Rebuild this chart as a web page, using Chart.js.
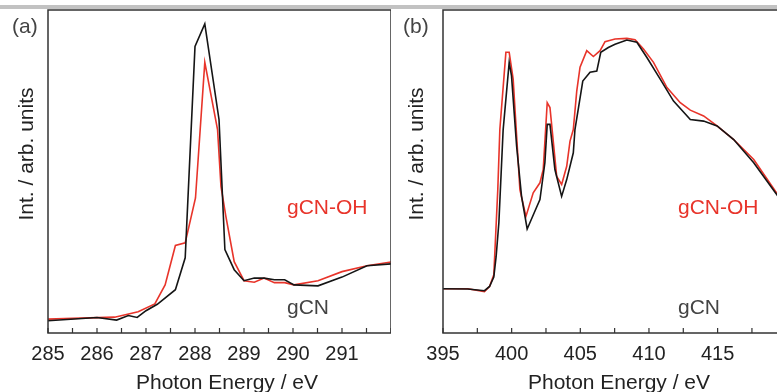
<!DOCTYPE html>
<html lang="en">
<head>
<meta charset="UTF-8">
<title>gCN / gCN-OH NEXAFS</title>
<script src="https://cdn.jsdelivr.net/npm/chart.js@4.4.1/dist/chart.umd.min.js"></script>
<style>
    body {
        margin: 0;
        width: 777px;
        height: 392px;
        overflow: hidden;
        background: #ffffff;
        position: relative;
    }
    #topBar { position: absolute; left: 0; top: 5px; width: 777px; height: 4px; background: #c2c2c2; }
    #panelA { position: absolute; left: 0; top: 0; }
    #panelB { position: absolute; left: 395px; top: 0; }
</style>
</head>
<body>
<div id="topBar"></div>
<canvas id="panelA" width="391" height="392"></canvas>
<canvas id="panelB" width="405" height="392"></canvas>
<script>
// ---- panel (a): C K-edge ----
const energyA_gCN = [285.0, 286.0, 286.4, 286.64, 286.82, 287.0, 287.23, 287.6, 287.8, 288.0, 288.2, 288.49, 288.61, 288.8, 289.0, 289.21, 289.41, 289.62, 289.83, 290.02, 290.51, 291.0, 291.51, 292.0];
const intA_gCN    = [3.8, 4.8, 4.0, 5.4, 4.8, 6.9, 8.9, 13.4, 23.3, 88.7, 95.7, 66.1, 25.8, 19.6, 16.2, 17.0, 17.0, 16.5, 16.5, 14.9, 14.6, 17.3, 20.8, 21.4];
const energyA_OH  = [285.0, 285.68, 286.36, 286.84, 287.18, 287.39, 287.6, 287.8, 288.01, 288.2, 288.46, 288.53, 288.63, 288.8, 289.0, 289.21, 289.41, 289.62, 289.83, 290.02, 290.51, 291.0, 291.51, 292.0];
const intA_OH     = [4.3, 4.6, 4.9, 6.6, 9.0, 14.9, 27.1, 27.9, 41.8, 83.8, 63.0, 45.4, 36.1, 22.1, 16.2, 15.7, 17.0, 15.6, 15.6, 14.9, 16.2, 19.0, 20.8, 22.0];
const ticksA = [285, 286, 287, 288, 289, 290, 291];

// ---- panel (b): N K-edge ----
const energyB_gCN = [395.0, 396.8, 398.02, 398.39, 398.7, 398.87, 399.07, 399.38, 399.82, 399.99, 400.36, 400.72, 401.13, 401.69, 402.06, 402.42, 402.59, 402.79, 403.15, 403.64, 404.01, 404.49, 404.61, 405.18, 405.71, 406.2, 406.49, 407.04, 407.53, 408.39, 409.12, 409.85, 410.82, 411.79, 413.01, 413.98, 414.96, 416.17, 417.63, 419.21, 421.0];
const intB_gCN    = [13.7, 13.6, 13.1, 14.4, 17.3, 23.7, 34.2, 62.9, 83.8, 79.6, 57.9, 42.3, 32.2, 37.7, 41.3, 52.7, 64.6, 64.6, 50.6, 42.3, 47.5, 55.8, 63.0, 78.0, 80.7, 81.1, 86.9, 88.4, 89.4, 90.7, 90.0, 85.3, 78.6, 71.8, 66.1, 65.6, 64.1, 59.9, 52.7, 43.4, 33.0];
const energyB_OH  = [395.0, 396.8, 398.02, 398.39, 398.7, 398.99, 399.14, 399.58, 399.82, 400.11, 400.6, 401.04, 401.57, 402.06, 402.3, 402.59, 402.79, 403.28, 403.64, 404.01, 404.25, 404.49, 404.74, 404.98, 405.47, 405.95, 406.44, 406.8, 407.53, 408.39, 408.99, 409.6, 410.33, 411.31, 412.28, 413.01, 413.98, 414.96, 416.17, 417.63, 419.21, 421.0];
const intB_OH     = [13.7, 13.7, 12.8, 14.4, 18.0, 44.4, 63.0, 86.9, 86.9, 78.6, 44.4, 36.1, 43.4, 46.5, 50.6, 71.3, 69.8, 48.5, 46.0, 51.6, 59.4, 63.0, 74.9, 82.3, 87.4, 85.6, 87.4, 90.2, 91.0, 91.2, 90.8, 87.9, 83.8, 76.0, 71.3, 69.0, 67.2, 64.1, 59.9, 53.7, 43.9, 33.5];
const ticksB = [395, 400, 405, 410, 415];

const FONT = '"Liberation Sans", Arial, sans-serif';
const RED = '#e8342a';
const BLACK = '#151515';

function toPoints(xs, ys) {
    return xs.map((x, i) => ({ x: x, y: ys[i] }));
}

// frame, inward minor/major ticks and the text labels of each panel
const panelDecor = {
    id: 'panelDecor',
    afterDraw(chart, args, opts) {
        const ctx = chart.ctx;
        const a = chart.chartArea;
        const xs = chart.scales.x;
        ctx.save();
        ctx.strokeStyle = '#333333';
        ctx.lineWidth = 1.5;
        ctx.strokeRect(a.left, a.top, a.right - a.left, a.bottom - a.top);
        ctx.beginPath();
        for (let v = xs.min; v <= xs.max + 1e-6; v += opts.minorStep) {
            const px = xs.getPixelForValue(v);
            ctx.moveTo(px, a.bottom);
            ctx.lineTo(px, a.bottom - 5);
        }
        ctx.lineWidth = 1.2;
        ctx.stroke();

        ctx.font = '21px ' + FONT;
        ctx.textBaseline = 'alphabetic';
        ctx.fillStyle = '#444444';
        ctx.textAlign = 'left';
        ctx.fillText(opts.letter, opts.letterX, 33);
        ctx.fillStyle = RED;
        ctx.fillText('gCN-OH', opts.labelX, 214);
        ctx.fillStyle = '#444444';
        ctx.fillText('gCN', opts.labelX, 314);

        ctx.fillStyle = '#222222';
        ctx.textAlign = 'center';
        ctx.fillText('Photon Energy / eV', opts.titleX, 389);

        ctx.translate(opts.yTitleX, 154);
        ctx.rotate(-Math.PI / 2);
        ctx.fillText('Int. / arb. units', 0, 0);
        ctx.restore();
    }
};

function makePanel(id, ohX, ohY, cnX, cnY, xMin, xMax, tickList, decor) {
    return new Chart(document.getElementById(id), {
        type: 'scatter',
        data: {
            datasets: [
                { label: 'gCN', data: toPoints(cnX, cnY), borderColor: BLACK, borderWidth: 1.6, showLine: true, pointRadius: 0, tension: 0 },
                { label: 'gCN-OH', data: toPoints(ohX, ohY), borderColor: RED, borderWidth: 1.6, showLine: true, pointRadius: 0, tension: 0 }
            ]
        },
        options: {
            responsive: false,
            animation: false,
            layout: { padding: { top: 10, right: 0, left: 0, bottom: 0 } },
            plugins: { legend: { display: false }, tooltip: { enabled: false }, panelDecor: decor },
            scales: {
                x: {
                    type: 'linear',
                    min: xMin,
                    max: xMax,
                    grid: { display: false, drawTicks: false },
                    border: { display: false },
                    afterBuildTicks: s => { s.ticks = tickList.map(v => ({ value: v })); },
                    afterFit: s => { s.height = 59; },
                    ticks: { autoSkip: false, maxRotation: 0, padding: 9, color: '#222222', font: { size: 20, family: FONT } }
                },
                y: {
                    min: 0,
                    max: 100,
                    grid: { display: false, drawTicks: false },
                    border: { display: false },
                    ticks: { display: false },
                    afterFit: s => { s.width = 48; }
                }
            }
        },
        plugins: [panelDecor]
    });
}

makePanel('panelA', energyA_OH, intA_OH, energyA_gCN, intA_gCN, 285, 292, ticksA,
    { letter: '(a)', letterX: 12, labelX: 287, titleX: 227, yTitleX: 33, minorStep: 0.5 });
makePanel('panelB', energyB_OH, intB_OH, energyB_gCN, intB_gCN, 395, 421, ticksB,
    { letter: '(b)', letterX: 8, labelX: 283, titleX: 224, yTitleX: 28, minorStep: 2.5 });
</script>
</body>
</html>
